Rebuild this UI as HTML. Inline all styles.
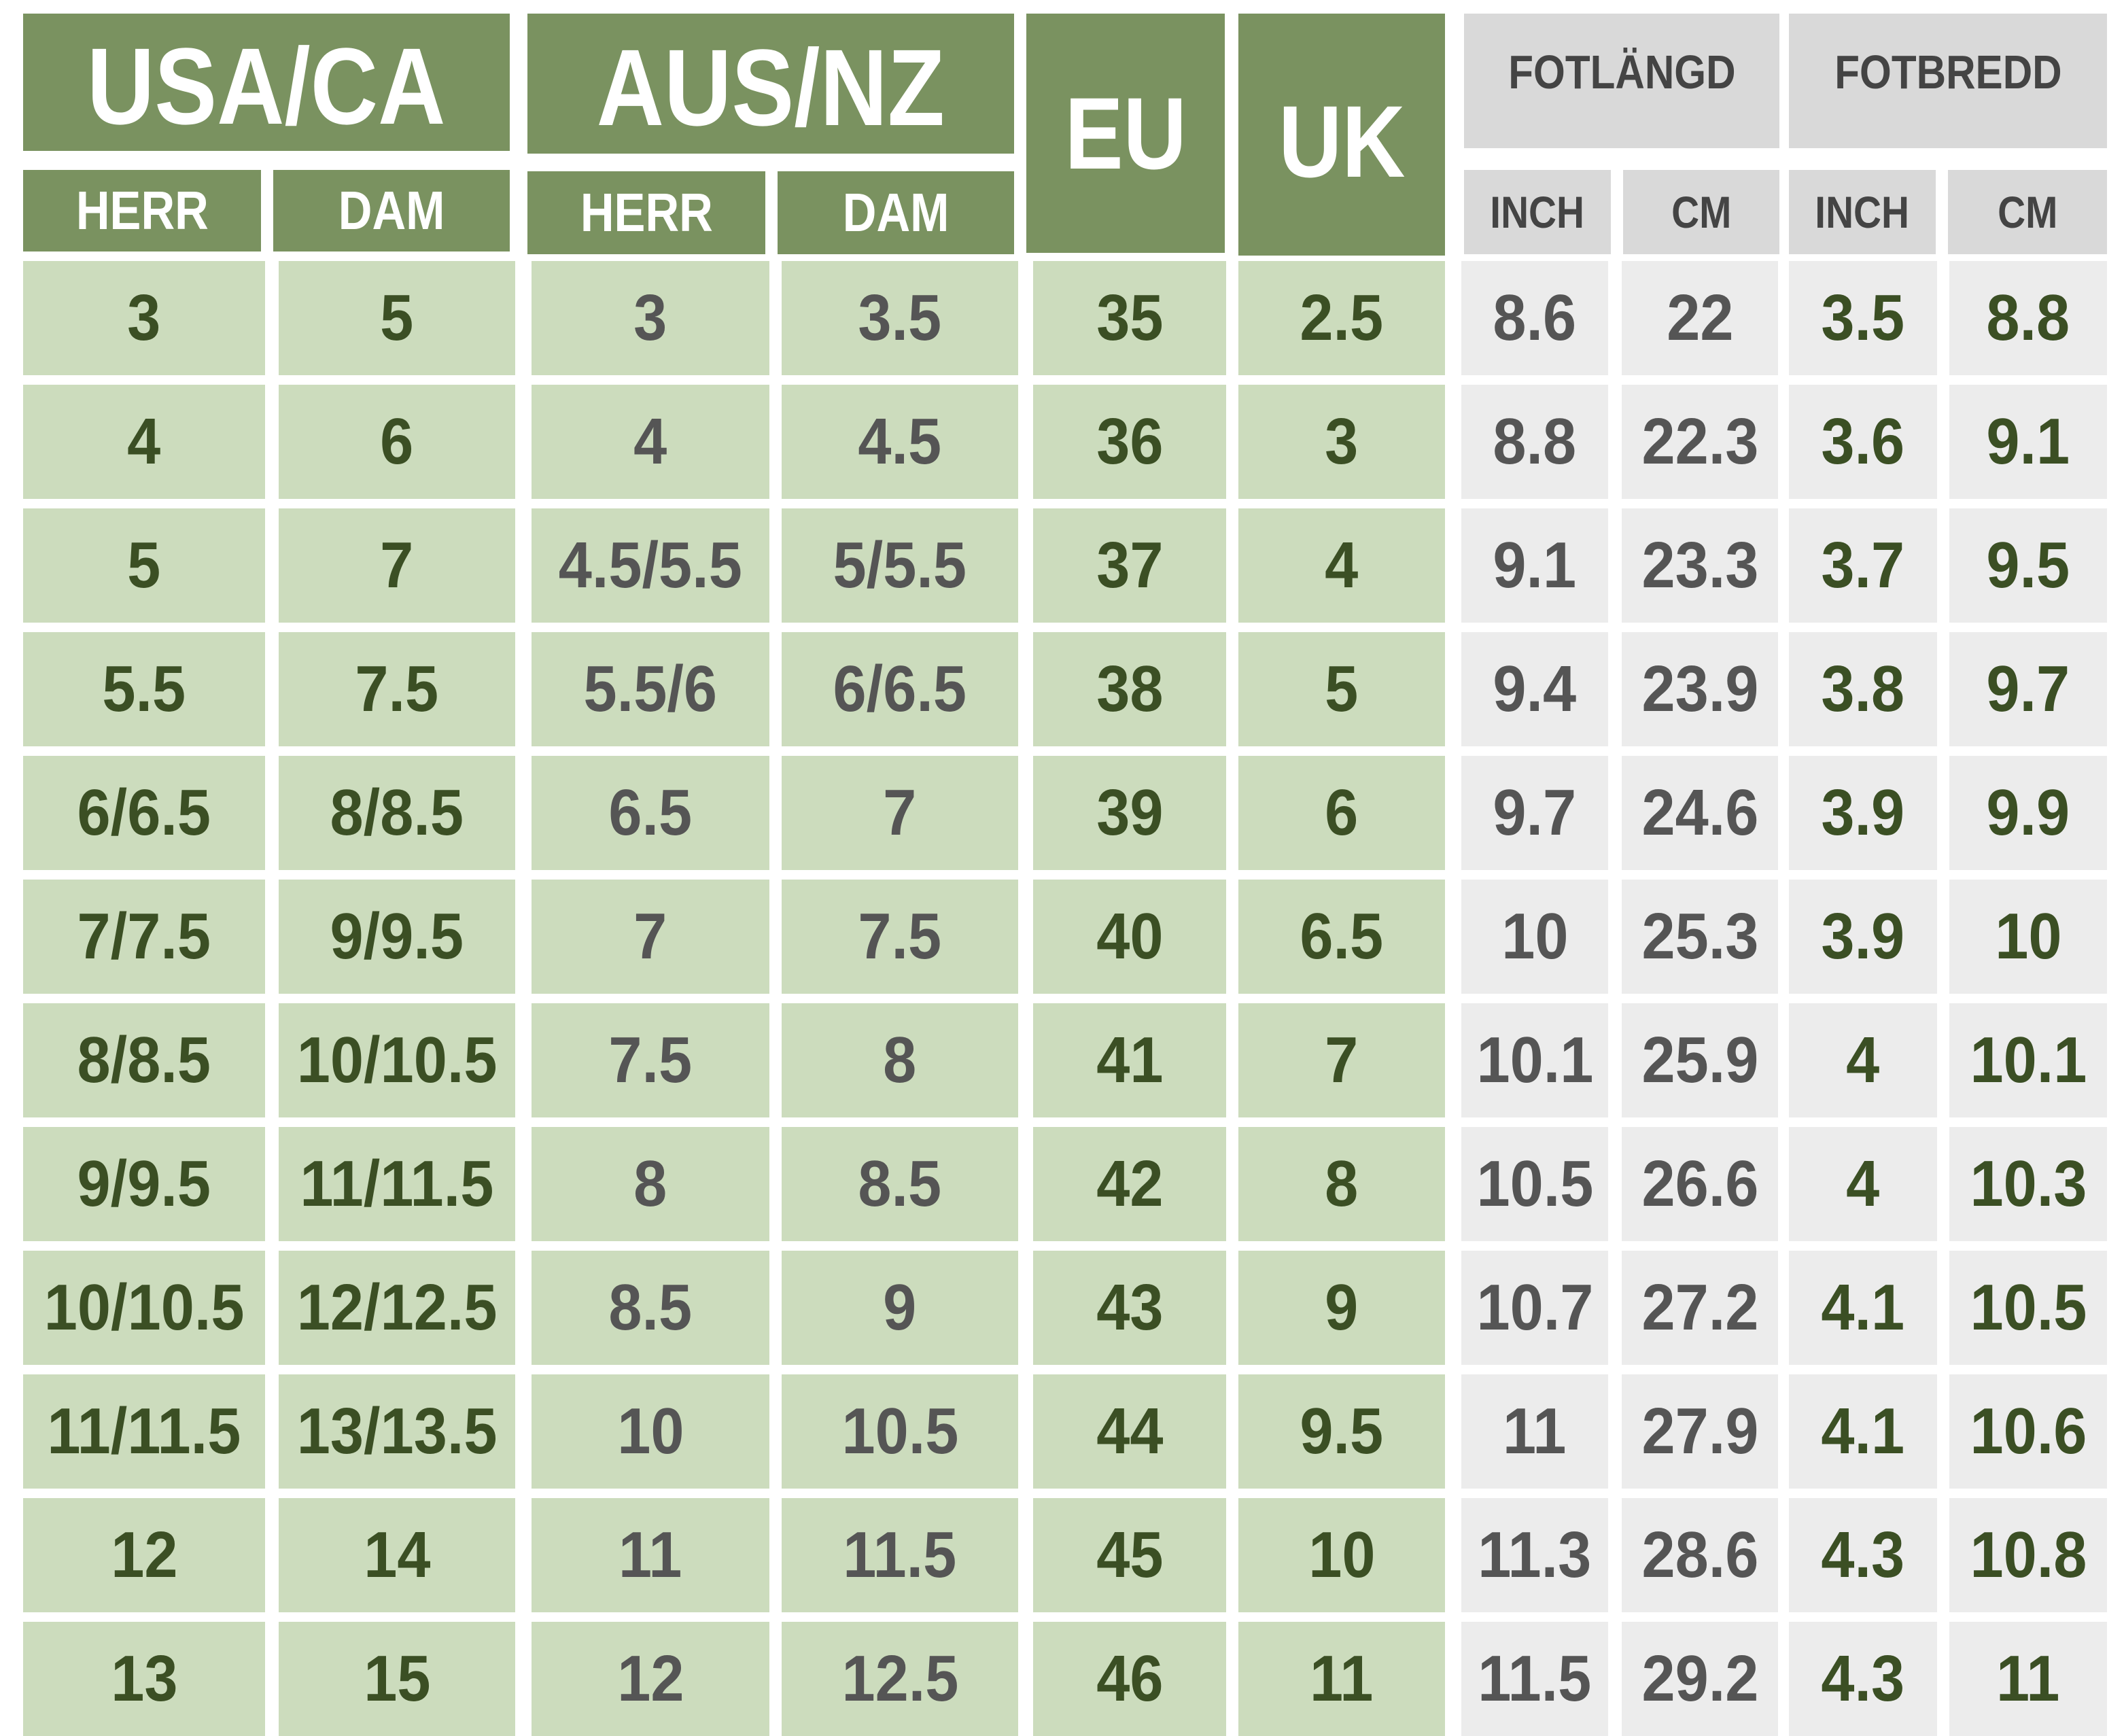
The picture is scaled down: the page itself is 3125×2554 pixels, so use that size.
<!DOCTYPE html>
<html><head><meta charset="utf-8"><style>
body{margin:0;width:3125px;height:2536px;background:#fff;position:relative;overflow:hidden;font-family:"Liberation Sans",sans-serif;font-weight:bold}
div{position:absolute;display:flex;align-items:center;justify-content:center}
span{display:inline-block;transform:scaleX(.86);white-space:nowrap}
.l span,.e span{transform:scaleX(.92)}
.h{background:#7a9260;color:#fff}
.g{background:#d9d9d9;color:#444}
.l{background:#ccdcbd;font-size:96px}
.e{background:#ececec;font-size:96px}
.gr{color:#3b4f24}.gy{color:#555}
</style></head><body>
<div class="h" style="left:34px;top:20px;width:716px;height:202px;font-size:160px;padding-top:12px;box-sizing:border-box"><span>USA/CA</span></div>
<div class="h" style="left:776px;top:20px;width:716px;height:206px;font-size:160px;padding-top:12px;box-sizing:border-box"><span>AUS/NZ</span></div>
<div class="h" style="left:1510px;top:20px;width:292px;height:352px;font-size:150px"><span>EU</span></div>
<div class="h" style="left:1822px;top:20px;width:304px;height:356px;font-size:150px;padding-top:20px;box-sizing:border-box"><span>UK</span></div>
<div class="g" style="left:2154px;top:20px;width:464px;height:198px;font-size:70px;align-items:flex-start;padding-top:46px;box-sizing:border-box"><span>FOTLÄNGD</span></div>
<div class="g" style="left:2632px;top:20px;width:468px;height:198px;font-size:70px;align-items:flex-start;padding-top:46px;box-sizing:border-box"><span>FOTBREDD</span></div>
<div class="h" style="left:34px;top:250px;width:350px;height:120px;font-size:80px"><span>HERR</span></div>
<div class="h" style="left:402px;top:250px;width:348px;height:120px;font-size:80px"><span>DAM</span></div>
<div class="h" style="left:776px;top:252px;width:350px;height:122px;font-size:80px"><span>HERR</span></div>
<div class="h" style="left:1144px;top:252px;width:348px;height:122px;font-size:80px"><span>DAM</span></div>
<div class="g" style="left:2154px;top:250px;width:216px;height:124px;font-size:66px"><span>INCH</span></div>
<div class="g" style="left:2388px;top:250px;width:230px;height:124px;font-size:66px"><span>CM</span></div>
<div class="g" style="left:2632px;top:250px;width:216px;height:124px;font-size:66px"><span>INCH</span></div>
<div class="g" style="left:2866px;top:250px;width:234px;height:124px;font-size:66px"><span>CM</span></div>
<script>
var d=[["3","5","3","3.5","35","2.5","8.6","22","3.5","8.8"],
["4","6","4","4.5","36","3","8.8","22.3","3.6","9.1"],
["5","7","4.5/5.5","5/5.5","37","4","9.1","23.3","3.7","9.5"],
["5.5","7.5","5.5/6","6/6.5","38","5","9.4","23.9","3.8","9.7"],
["6/6.5","8/8.5","6.5","7","39","6","9.7","24.6","3.9","9.9"],
["7/7.5","9/9.5","7","7.5","40","6.5","10","25.3","3.9","10"],
["8/8.5","10/10.5","7.5","8","41","7","10.1","25.9","4","10.1"],
["9/9.5","11/11.5","8","8.5","42","8","10.5","26.6","4","10.3"],
["10/10.5","12/12.5","8.5","9","43","9","10.7","27.2","4.1","10.5"],
["11/11.5","13/13.5","10","10.5","44","9.5","11","27.9","4.1","10.6"],
["12","14","11","11.5","45","10","11.3","28.6","4.3","10.8"],
["13","15","12","12.5","46","11","11.5","29.2","4.3","11"]];
var X=[[34,390],[410,758],[782,1132],[1150,1498],[1520,1804],[1822,2126],[2150,2366],[2386,2616],[2632,2850],[2868,3100]];
var col=["gr","gr","gy","gy","gr","gr","gy","gy","gr","gr"];
var h="";
for(var r=0;r<12;r++)for(var c=0;c<10;c++){
h+='<div class="'+(c<6?'l ':'e ')+col[c]+'" style="left:'+X[c][0]+'px;top:'+(384+r*182)+'px;width:'+(X[c][1]-X[c][0])+'px;height:168px"><span>'+d[r][c]+'</span></div>';}
document.body.insertAdjacentHTML('beforeend',h);
</script>
</body></html>
